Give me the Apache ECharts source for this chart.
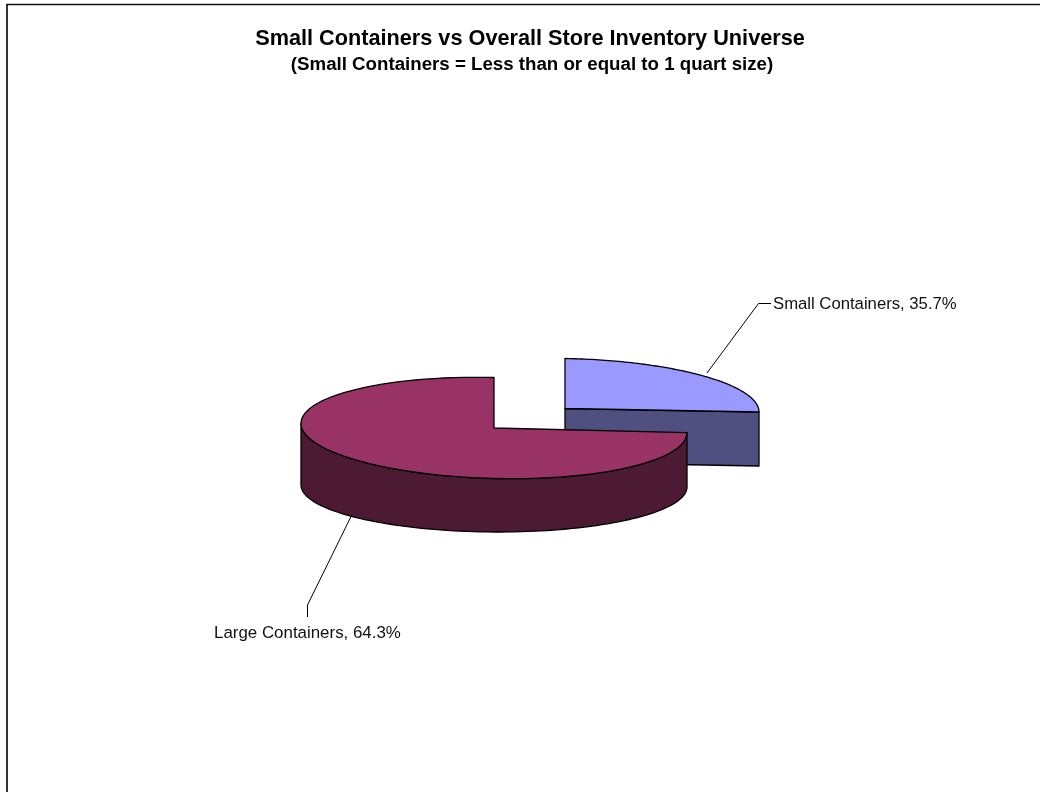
<!DOCTYPE html>
<html>
<head>
<meta charset="utf-8">
<style>html,body{margin:0;padding:0;background:#fff;overflow:hidden}#c{width:1040px;height:792px}</style>
<script src="https://cdn.jsdelivr.net/npm/echarts@6/dist/echarts.min.js"></script>
</head>
<body>
<div id="c"></div>
<script>
// Categories and the percentages printed on the data labels
const categories = ['Small Containers', 'Large Containers'];
const labelPercents = [35.7, 64.3];
// Share of the round that each slice visibly sweeps in the picture
const drawnShares = [25, 75];
const titleText = 'Small Containers vs Overall Store Inventory Universe';
const subtitleText = '(Small Containers = Less than or equal to 1 quart size)';
const topColors = ['#9999FF', '#993366'];
const sideColors = ['#4F4F80', '#4D1A33'];

const FONT = '"Liberation Sans", Arial, sans-serif';
const layouts = [
  {cx: 565, cy: 408.5, rx: 194, ry: 50, skew: 0.018, depth: 54,
   leader: [[707, 373], [758.5, 303.5], [771, 303.5]], labelX: 773, labelY: 304.5, labelSize: 16.7},
  {cx: 494, cy: 428, rx: 193, ry: 50.5, skew: 0.024, depth: 58, bottomRy: 46, bottomSkew: 0.005,
   leader: [[351.5, 515.5], [307.5, 605], [307.5, 617]], labelX: 214, labelY: 633, labelSize: 16.9}
];

function sliceAngles(i) {
  const total = drawnShares.reduce((a, b) => a + b, 0);
  const start = -Math.PI / 2 + (i === 0 ? 0 : drawnShares[0] / total * 2 * Math.PI);
  return {from: start, to: start + drawnShares[i] / total * 2 * Math.PI};
}
function arcPts(L, a0, a1, dy, ry, skew) {
  const n = 90, pts = [];
  for (let k = 0; k <= n; k++) {
    const a = a0 + (a1 - a0) * k / n;
    const dx = L.rx * Math.cos(a);
    pts.push([L.cx + dx, L.cy + dy + ry * Math.sin(a) + skew * dx]);
  }
  return pts;
}

function renderItem(params, api) {
  const i = api.value(0);
  const L = layouts[i];
  const {from, to} = sliceAngles(i);
  const line = {stroke: '#000', lineWidth: 1.3, lineJoin: 'round'};
  const children = [];
  if (i === 0) {
    // cut face seen from the front
    const end = arcPts(L, to, to, 0, L.ry, L.skew)[0];
    children.push({type: 'polygon',
      shape: {points: [[L.cx, L.cy], end, [end[0], end[1] + L.depth], [L.cx, L.cy + L.depth]]},
      style: Object.assign({fill: sideColors[i]}, line)});
  } else {
    // outer wall, from the front right corner round to the left extreme
    const top = arcPts(L, from, Math.PI, 0, L.ry, L.skew);
    const bottom = arcPts(L, Math.PI, from, L.depth, L.bottomRy, L.bottomSkew);
    children.push({type: 'polygon', shape: {points: top.concat(bottom)},
      style: Object.assign({fill: sideColors[i]}, line)});
  }
  const pts = [[L.cx, L.cy]].concat(arcPts(L, from, to, 0, L.ry, L.skew));
  children.push({type: 'polygon', shape: {points: pts},
    style: Object.assign({fill: topColors[i]}, line)});
  children.push({type: 'polyline', shape: {points: L.leader},
    style: {stroke: '#000', lineWidth: 1, fill: null}});
  children.push({type: 'text', x: L.labelX, y: L.labelY, style: {
    text: categories[i] + ', ' + labelPercents[i].toFixed(1) + '%',
    font: L.labelSize + 'px ' + FONT, fill: '#111', textAlign: 'left', textVerticalAlign: 'middle'}});
  return {type: 'group', children};
}

const chart = echarts.init(document.getElementById('c'), null, {renderer: 'canvas'});
chart.setOption({
  animation: false,
  backgroundColor: '#fff',
  title: [
    {text: titleText, left: 525, top: 23.5, textAlign: 'center',
     textStyle: {fontFamily: FONT, fontWeight: 'bold', fontSize: 21.7, color: '#000'}},
    {text: subtitleText, left: 527, top: 50.5, textAlign: 'center',
     textStyle: {fontFamily: FONT, fontWeight: 'bold', fontSize: 18.7, color: '#000'}}
  ],
  graphic: [{type: 'polyline', silent: true,
    shape: {points: [[7, 792], [7, 4.5], [1040, 4.5]]},
    style: {stroke: '#111', lineWidth: 1.7, fill: null}}],
  series: [{
    type: 'custom',
    coordinateSystem: 'none',
    silent: true,
    clip: false,
    renderItem,
    data: categories.map((c, i) => [i, drawnShares[i], labelPercents[i]])
  }]
});
</script>
</body>
</html>
